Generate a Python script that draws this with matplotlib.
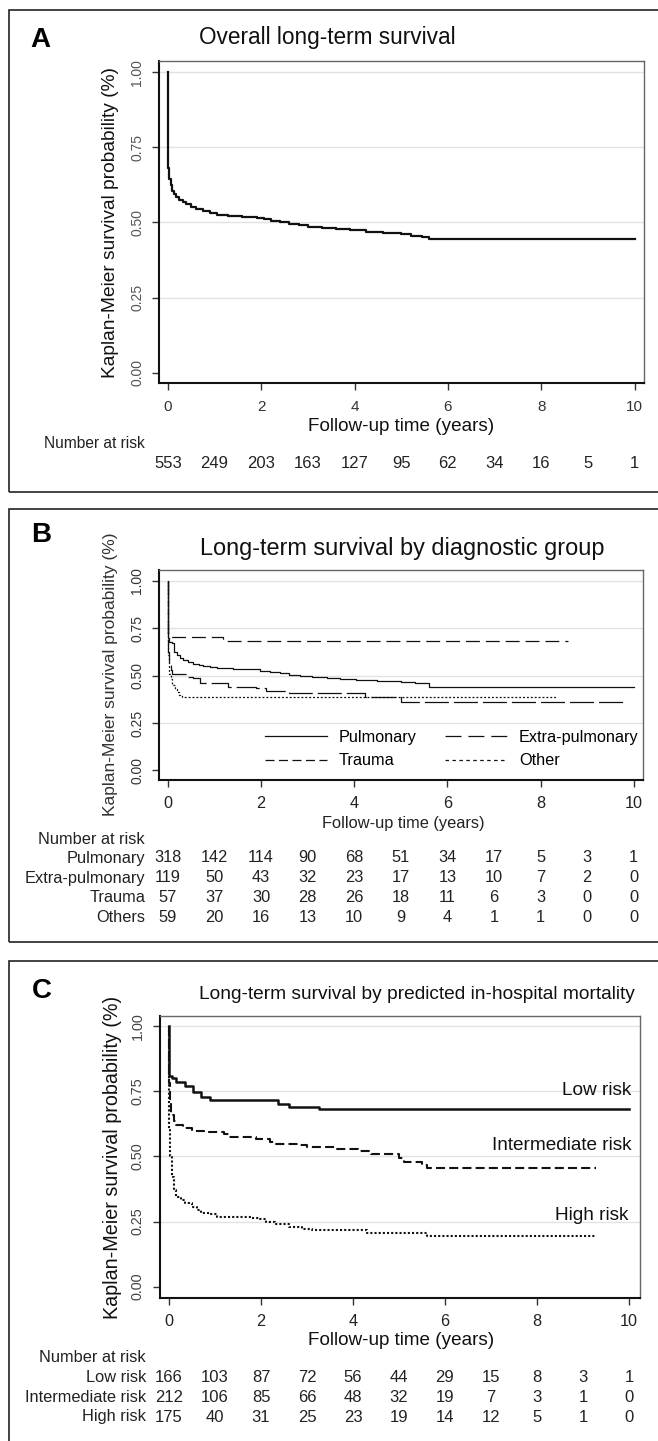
import matplotlib
matplotlib.use('Agg')
import matplotlib.pyplot as plt
from matplotlib.lines import Line2D
from matplotlib.patches import Rectangle
from matplotlib.transforms import blended_transform_factory

plt.rcParams['font.family'] = ['Liberation Sans', 'DejaVu Sans']
plt.rcParams['lines.scale_dashes'] = False

# ---------------- data ----------------
years = list(range(0, 11))

# Panel A: overall survival
a_t = [0, 0, 0.03, 0.06, 0.09, 0.13, 0.18, 0.25, 0.32, 0.4, 0.5, 0.6, 0.75, 0.9, 1.05, 1.3,
       1.6, 1.9, 2.05, 2.2, 2.4, 2.6, 2.8, 3.0, 3.3, 3.6, 3.9, 4.25, 4.6, 5.0, 5.2, 5.45, 5.6, 10.0]
a_s = [1.0, 0.68, 0.645, 0.625, 0.605, 0.595, 0.585, 0.575, 0.568, 0.56, 0.552, 0.545, 0.538,
       0.532, 0.526, 0.521, 0.518, 0.515, 0.51, 0.505, 0.5, 0.495, 0.49, 0.486, 0.483, 0.479,
       0.476, 0.469, 0.465, 0.462, 0.456, 0.452, 0.445, 0.445]
a_risk = [553, 249, 203, 163, 127, 95, 62, 34, 16, 5, 1]

# Panel B: by diagnostic group
pul_t = [0, 0, 0.03, 0.08, 0.14, 0.19, 0.26, 0.33, 0.44, 0.55, 0.66, 0.76, 0.9, 1.05, 1.4, 1.7,
         1.98, 2.2, 2.41, 2.6, 2.84, 3.1, 3.41, 3.7, 4.05, 4.5, 5.0, 5.3, 5.6, 10.0]
pul_s = [1.0, 0.70, 0.68, 0.671, 0.625, 0.609, 0.595, 0.583, 0.572, 0.561, 0.556, 0.551, 0.546,
         0.539, 0.537, 0.535, 0.525, 0.519, 0.512, 0.506, 0.50, 0.494, 0.486, 0.48, 0.477, 0.470,
         0.466, 0.462, 0.440, 0.440]
ext_t = [0, 0, 0.03, 0.06, 0.1, 0.43, 0.55, 0.68, 1.3, 1.9, 2.1, 2.6, 4.23, 5.0, 9.8]
ext_s = [1.0, 0.627, 0.57, 0.53, 0.508, 0.495, 0.486, 0.46, 0.442, 0.433, 0.42, 0.407, 0.389,
         0.363, 0.363]
tra_t = [0, 0, 1.19, 8.6]
tra_s = [1.0, 0.703, 0.683, 0.683]
oth_t = [0, 0, 0.03, 0.06, 0.1, 0.15, 0.19, 0.25, 0.3, 8.36]
oth_s = [1.0, 0.61, 0.51, 0.48, 0.45, 0.43, 0.415, 0.40, 0.386, 0.386]
b_names = ['Pulmonary', 'Extra-pulmonary', 'Trauma', 'Others']
b_risk = [[318, 142, 114, 90, 68, 51, 34, 17, 5, 3, 1],
          [119, 50, 43, 32, 23, 17, 13, 10, 7, 2, 0],
          [57, 37, 30, 28, 26, 18, 11, 6, 3, 0, 0],
          [59, 20, 16, 13, 10, 9, 4, 1, 1, 0, 0]]

# Panel C: by predicted in-hospital mortality
low_t = [0, 0, 0.06, 0.15, 0.34, 0.52, 0.7, 0.89, 2.38, 2.6, 3.26, 10.0]
low_s = [1.0, 0.81, 0.80, 0.786, 0.771, 0.748, 0.726, 0.716, 0.70, 0.69, 0.68, 0.68]
int_t = [0, 0, 0.02, 0.05, 0.1, 0.15, 0.3, 0.5, 0.75, 1.2, 1.3, 1.9, 2.2, 2.3, 2.8, 3.0, 3.5,
         3.6, 4.1, 4.4, 5.0, 5.1, 5.5, 5.6, 9.29]
int_s = [1.0, 0.78, 0.72, 0.66, 0.635, 0.62, 0.607, 0.597, 0.594, 0.585, 0.575, 0.565, 0.556,
         0.547, 0.545, 0.537, 0.535, 0.527, 0.52, 0.508, 0.495, 0.478, 0.468, 0.455, 0.455]
hig_t = [0, 0, 0.01, 0.03, 0.06, 0.1, 0.15, 0.25, 0.35, 0.5, 0.6, 0.7, 0.9, 1.05, 1.8, 1.95,
         2.1, 2.3, 2.6, 2.9, 3.1, 4.3, 5.6, 9.29]
hig_s = [1.0, 0.78, 0.60, 0.50, 0.42, 0.37, 0.345, 0.332, 0.32, 0.307, 0.295, 0.283, 0.278,
         0.268, 0.265, 0.258, 0.247, 0.24, 0.228, 0.222, 0.217, 0.208, 0.194, 0.194]
c_names = ['Low risk', 'Intermediate risk', 'High risk']
c_risk = [[166, 103, 87, 72, 56, 44, 29, 15, 8, 3, 1],
          [212, 106, 85, 66, 48, 32, 19, 7, 3, 1, 0],
          [175, 40, 31, 25, 23, 19, 14, 12, 5, 1, 0]]

yticks = [0, 0.25, 0.5, 0.75, 1.0]
ytick_labels = ['0.00', '0.25', '0.50', '0.75', '1.00']
xticks = [0, 2, 4, 6, 8, 10]

# ---------------- layout helpers ----------------
W, H = 658, 1441
fig = plt.figure(figsize=(W / 100, H / 100), dpi=100)


def ax_px(l, t, r, b):
    return fig.add_axes([l / W, 1 - b / H, (r - l) / W, (b - t) / H])


def txt(x, y, s, **kw):
    return fig.text(x / W, 1 - y / H, s, **kw)


def box(top, bottom):
    fig.add_artist(Rectangle((9 / W, 1 - bottom / H), (663 - 9) / W, (bottom - top) / H,
                             transform=fig.transFigure, fill=False, lw=1.2, ec='#222'))


def style(ax, xlim, ylim, yfs, xfs, ycol, xcol, xpad):
    ax.set_xlim(*xlim)
    ax.set_ylim(*ylim)
    ax.set_xticks(xticks)
    ax.set_xticklabels([str(v) for v in xticks], fontsize=xfs, color=xcol)
    ax.set_yticks(yticks)
    ax.set_yticklabels(ytick_labels, rotation=90, va='center', fontsize=yfs, color=ycol)
    for y in yticks[1:]:
        ax.axhline(y, color='#e2e2e2', lw=1.0, zorder=0)
    ax.spines['left'].set(lw=1.5, color='#111')
    ax.spines['bottom'].set(lw=1.5, color='#111')
    ax.spines['top'].set(lw=1.0, color='#666')
    ax.spines['right'].set(lw=1.0, color='#666')
    ax.tick_params(axis='both', direction='out', length=5, width=1, color='#333')
    ax.tick_params(axis='x', pad=xpad)
    ax.tick_params(axis='y', pad=5.5)


def risk_row(ax, y, values, fs=11.8, color='#222'):
    tr = blended_transform_factory(ax.transData, fig.transFigure)
    for xv, v in zip(years, values):
        ax.text(xv, 1 - y / H, str(v), transform=tr, ha='center', va='center',
                fontsize=fs, color=color, clip_on=False)


# ---------------- Panel A ----------------
box(10, 492)
txt(40, 47, 'A', fontsize=20, fontweight='bold', ha='center', va='baseline')
txt(327, 44, 'Overall long-term survival', fontsize=16.3, ha='center', va='baseline', color='#111')
axA = ax_px(158.6, 61, 644, 383)
style(axA, (-0.197, 10.2), (-0.0343, 1.0376), 10, 11, '#555', '#333', 7)
axA.step(a_t, a_s, where='post', color='#111', lw=1.6)
txt(111, 222, 'Kaplan-Meier survival probability (%)', rotation=90, fontsize=13.8,
    ha='center', va='center', color='#111')
txt(401, 427, 'Follow-up time (years)', fontsize=13.6, ha='center', va='center', color='#111')
txt(145, 443.6, 'Number at risk', fontsize=11.2, ha='right', va='center', color='#222')
risk_row(axA, 463.7, a_risk, fs=12)

# ---------------- Panel B ----------------
box(509, 942)
txt(41.5, 541.7, 'B', fontsize=20, fontweight='bold', ha='center', va='baseline')
txt(402, 555, 'Long-term survival by diagnostic group', fontsize=16.9, ha='center',
    va='baseline', color='#111')
axB = ax_px(158.6, 570, 643, 780)
style(axB, (-0.198, 10.2), (-0.051, 1.058), 10, 11.7, '#333', '#222', 6.8)
lw_b = 0.9
axB.step(pul_t, pul_s, where='post', color='#111', lw=lw_b)
axB.step(ext_t, ext_s, where='post', color='#111', lw=lw_b, linestyle=(0, (17.3, 3.6)))
axB.step(tra_t, tra_s, where='post', color='#111', lw=lw_b, linestyle=(0, (10.0, 4.3)))
axB.step(oth_t, oth_s, where='post', color='#111', lw=lw_b, linestyle=(0, (1.4, 1.4)))
h_p = Line2D([], [], color='#111', lw=lw_b)
h_t = Line2D([], [], color='#111', lw=lw_b, linestyle=(0, (6.5, 3.2)))
h_e = Line2D([], [], color='#111', lw=lw_b, linestyle=(0, (11.5, 5.0)))
h_o = Line2D([], [], color='#111', lw=lw_b, linestyle=(0, (2.5, 2.5)))
axB.legend(handles=[h_p, h_t, h_e, h_o], labels=['Pulmonary', 'Trauma', 'Extra-pulmonary', 'Other'],
           ncol=2, loc='upper left', bbox_to_anchor=(265 / W, 1 - 730 / H),
           bbox_transform=fig.transFigure, frameon=False, fontsize=11.7, handlelength=3.8,
           handletextpad=0.74, columnspacing=1.75, labelspacing=0.52, borderpad=0,
           borderaxespad=0)
txt(111, 674, 'Kaplan-Meier survival probability (%)', rotation=90, fontsize=12.5,
    ha='center', va='center', color='#333')
txt(403, 823, 'Follow-up time (years)', fontsize=11.8, ha='center', va='center', color='#222')
txt(145, 839, 'Number at risk', fontsize=11.8, ha='right', va='center', color='#222')
for i, (nm, row) in enumerate(zip(b_names, b_risk)):
    y = [858, 878, 897, 917][i]
    txt(145, y, nm, fontsize=11.8, ha='right', va='center', color='#222')
    risk_row(axB, y, row)

# ---------------- Panel C ----------------
box(961, 1444)
txt(41.5, 998.3, 'C', fontsize=20, fontweight='bold', ha='center', va='baseline')
txt(416.5, 999, 'Long-term survival by predicted in-hospital mortality', fontsize=13.8,
    ha='center', va='baseline', color='#111')
axC = ax_px(159.5, 1015.7, 640, 1297.7)
style(axC, (-0.207, 10.24), (-0.042, 1.0395), 10.4, 11.7, '#444', '#222', 6.8)
axC.step(low_t, low_s, where='post', color='#111', lw=1.8)
axC.step(int_t, int_s, where='post', color='#111', lw=1.5, linestyle=(0, (6.5, 3.0)))
axC.step(hig_t, hig_s, where='post', color='#111', lw=1.5, linestyle=(0, (1.5, 1.5)))
txt(631, 1090.7, 'Low risk', fontsize=13.7, ha='right', va='center', color='#111')
txt(631, 1145, 'Intermediate risk', fontsize=13.7, ha='right', va='center', color='#111')
txt(628, 1216, 'High risk', fontsize=13.7, ha='right', va='center', color='#111')
txt(113, 1157, 'Kaplan-Meier survival probability (%)', rotation=90, fontsize=14.2,
    ha='center', va='center', color='#111')
txt(401, 1340.7, 'Follow-up time (years)', fontsize=13.6, ha='center', va='center', color='#111')
txt(146, 1358, 'Number at risk', fontsize=11.8, ha='right', va='center', color='#222')
for i, (nm, row) in enumerate(zip(c_names, c_risk)):
    y = [1377, 1397, 1417][i]
    txt(146, y, nm, fontsize=11.8, ha='right', va='center', color='#222')
    risk_row(axC, y, row, fs=12)

fig.savefig('out.png', dpi=100, facecolor='white')
